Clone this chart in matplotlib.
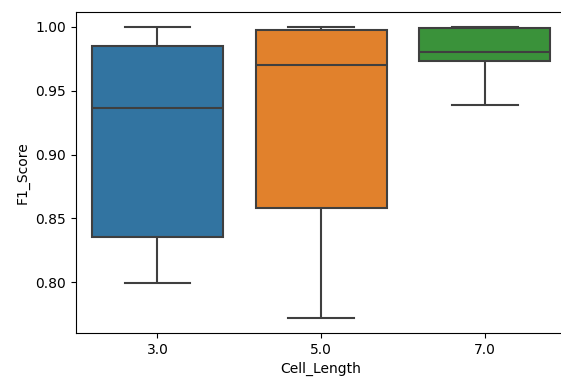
import pandas as pd
import seaborn as sns
import matplotlib
matplotlib.use("Agg")
import matplotlib.pyplot as plt

# F1 scores per cell length (five runs each: min, q1, median, q3, max)
cell_lengths = [3.0, 5.0, 7.0]
f1_len3 = [0.7992, 0.8353, 0.9368, 0.9850, 1.0000]
f1_len5 = [0.7718, 0.8584, 0.9705, 0.9977, 1.0002]
f1_len7 = [0.9391, 0.9729, 0.9807, 0.9990, 1.0002]

df = pd.DataFrame({
    "Cell_Length": [cell_lengths[0]] * len(f1_len3)
                   + [cell_lengths[1]] * len(f1_len5)
                   + [cell_lengths[2]] * len(f1_len7),
    "F1_Score": f1_len3 + f1_len5 + f1_len7,
})

fig = plt.figure(figsize=(5.61, 3.83), dpi=100)
ax = fig.add_axes([75.5 / 561, 50 / 383, 491.3 / 561, 321 / 383])
sns.boxplot(data=df, x="Cell_Length", y="F1_Score", hue="Cell_Length",
            palette="tab10", legend=False, ax=ax,
            linewidth=1.5, linecolor="#3f3f3f")
ax.set_xlim(-0.5, 2.5)

fig.savefig("out.png", dpi=100)
